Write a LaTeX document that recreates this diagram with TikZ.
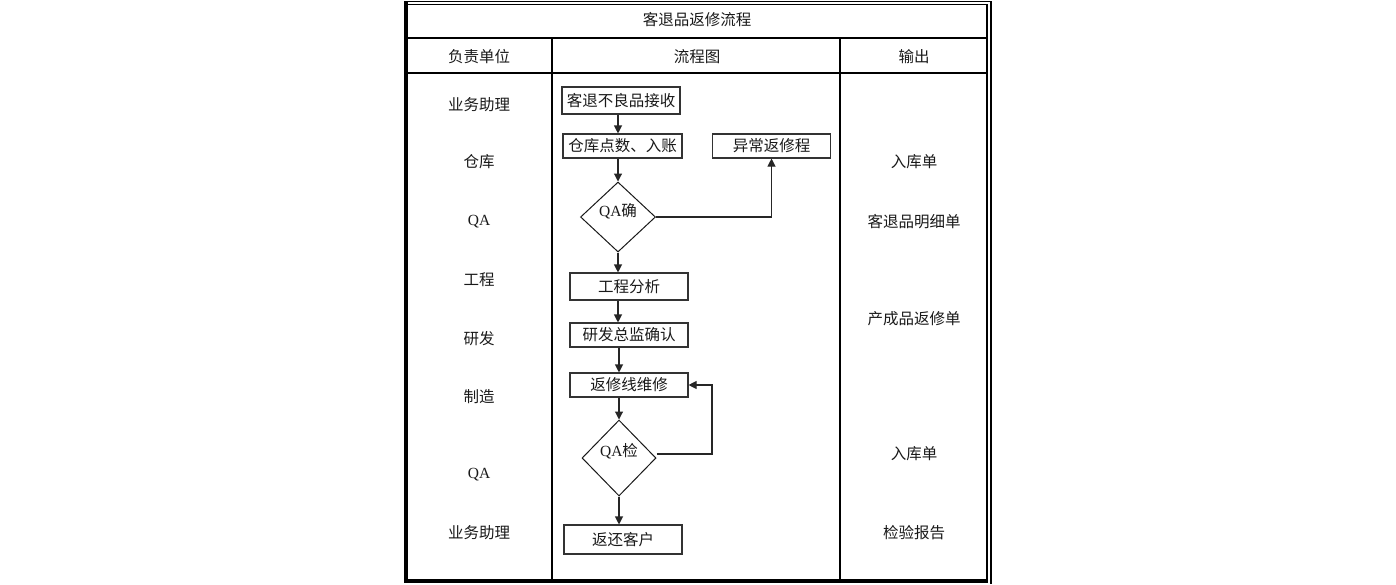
\documentclass[tikz,border=0pt]{standalone}
\usepackage{fontspec}
\setmainfont{Noto Sans CJK SC}
\newfontfamily\lat{Liberation Serif}
\usetikzlibrary{arrows.meta,shapes.geometric}
\tikzset{
  txt/.style={font=\fontsize{15.5}{16}\selectfont, text=black!90, inner sep=0pt},
  fbox/.style={txt, draw=black!80, line width=1.1pt, minimum width=118pt, minimum height=25pt},
  dia/.style={diamond, draw=black!90, line width=1pt, inner sep=0pt},
  arr/.style={draw=black!85, line width=1.1pt, -{Triangle[length=8pt,width=8pt]}},
  grid/.style={line width=2pt, black},
}
\begin{document}
\begin{tikzpicture}[x=1pt,y=-1pt]
\useasboundingbox (0,0) rectangle (1396,584);
% outer border
\draw[line width=4pt] (406,1) -- (406,583);
\draw[line width=1.6pt] (404,1.5) -- (991,1.5);
\draw[line width=1.6pt] (408,4.5) -- (987,4.5);
\draw[line width=2pt] (987,4) -- (987,581);
\draw[line width=2pt] (990.5,1) -- (990.5,584);
\draw[line width=4pt] (404,581) -- (988,581);
% grid
\draw[grid] (408,37.5) -- (987,37.5);
\draw[grid] (408,73) -- (987,73);
\draw[grid] (552,37.5) -- (552,580);
\draw[grid] (840,37.5) -- (840,580);
% header
\node[txt] (title) at (697,19.5) {客退品返修流程};
\node[txt] (h1) at (479,56.5) {负责单位};
\node[txt] (h2) at (697,56.5) {流程图};
\node[txt] (h3) at (914,56.5) {输出};
% left column
\node[txt] (l1) at (479,104.5) {业务助理};
\node[txt] (l2) at (479,161.5) {仓库};
\node[txt] (l3) at (479,221.5) {\lat QA};
\node[txt] (l4) at (479,279.5) {工程};
\node[txt] (l5) at (479,338.5) {研发};
\node[txt] (l6) at (479,396.5) {制造};
\node[txt] (l7) at (479,474.5) {\lat QA};
\node[txt] (l8) at (479,532.5) {业务助理};
% right column
\node[txt] (r1) at (914,161.5) {入库单};
\node[txt] (r2) at (914,221.5) {客退品明细单};
\node[txt] (r3) at (914,318.5) {产成品返修单};
\node[txt] (r4) at (914,453.5) {入库单};
\node[txt] (r5) at (914,532.5) {检验报告};
% flowchart
\node[fbox, minimum height=27pt] (b1) at (621,100.5) {客退不良品接收};
\node[fbox, minimum width=119pt, minimum height=24pt] (b2) at (622.5,146) {仓库点数、入账};
\node[fbox, minimum height=24pt] (b3) at (771.5,146) {异常返修程};
\node[dia, minimum width=75pt, minimum height=70pt] (d1) at (618,217) {};
\node[txt] (d1t) at (618,211.5) {{\lat QA}确};
\node[fbox, minimum height=27pt] (b4) at (629,286.5) {工程分析};
\node[fbox, minimum height=24pt] (b5) at (629,335) {研发总监确认};
\node[fbox, minimum height=24pt] (b6) at (629,385) {返修线维修};
\node[dia, minimum width=74pt, minimum height=76pt] (d2) at (619,458) {};
\node[txt] (d2t) at (619,451.5) {{\lat QA}检};
\node[fbox, minimum height=29pt] (b7) at (623,539.5) {返还客户};
\coordinate (fb) at (712,454);
% connectors
\draw[arr] (b1.south -| d1) -- (b2.north -| d1);
\draw[arr] (b2.south -| d1) -- (d1.north);
\draw[arr] (d1.east) -| (b3.south);
\draw[arr] (d1.south) -- (b4.north -| d1);
\draw[arr] (b4.south -| d1) -- (b5.north -| d1);
\draw[arr] (b5.south -| d2) -- (b6.north -| d2);
\draw[arr] (b6.south -| d2) -- (d2.north);
\draw[arr] (d2.south) -- (b7.north -| d2);
\draw[arr] ([yshift=4pt]d2.east) -- (fb) |- (b6.east);
\end{tikzpicture}
\end{document}
